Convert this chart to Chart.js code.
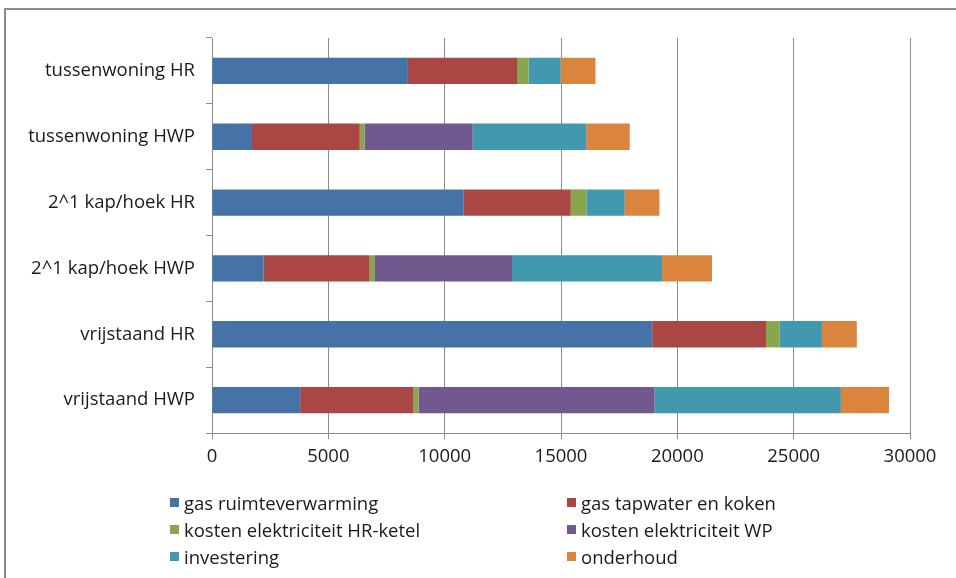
<!DOCTYPE html>
<html>
<head>
<meta charset="utf-8">
<script src="https://cdn.jsdelivr.net/npm/chart.js@4"></script>
<style>
  html, body { margin: 0; padding: 0; background: #fff; overflow: hidden; }
  #wrap { position: relative; width: 956px; height: 578px; }
  #frame { position: absolute; left: 4px; top: 8px; width: 980px; height: 600px;
           border: 2px solid #8c8c8c; box-sizing: border-box; pointer-events: none; }
  canvas { position: absolute; left: 0; top: 0; }
  #legend { position: absolute; left: 0; top: 0; width: 956px; height: 578px; pointer-events: none;
            font-family: "Open Sans", Lato, sans-serif; font-size: 18.5px; color: #1a1a1a; }
  .item { position: absolute; display: flex; align-items: center; white-space: nowrap; }
  .box { width: 9px; height: 9px; margin-right: 5px; }
</style>
</head>
<body>
<div id="wrap">
  <canvas id="c" width="956" height="578"></canvas>
  <div id="frame"></div>
  <div id="legend"></div>
</div>
<script>
const categories = [
  "tussenwoning HR",
  "tussenwoning HWP",
  "2^1 kap/hoek HR",
  "2^1 kap/hoek HWP",
  "vrijstaand HR",
  "vrijstaand HWP"
];
const seriesNames = [
  "gas ruimteverwarming",
  "gas tapwater en koken",
  "kosten elektriciteit HR-ketel",
  "kosten elektriciteit WP",
  "investering",
  "onderhoud"
];
const gasRuimteverwarming = [8420, 1720, 10820, 2220, 18920, 3790];
const gasTapwaterKoken    = [4690, 4630, 4600, 4555, 4890, 4870];
const elektriciteitHR     = [500, 215, 670, 230, 590, 220];
const elektriciteitWP     = [0, 4640, 0, 5890, 0, 10140];
const investering         = [1380, 4880, 1650, 6445, 1815, 8010];
const onderhoud           = [1490, 1870, 1490, 2150, 1500, 2070];
const xTicks = [0, 5000, 10000, 15000, 20000, 25000, 30000];

const colors = ["#4572A7", "#AA4643", "#89A54E", "#71588F", "#4198AF", "#DB843D"];
const seriesValues = [gasRuimteverwarming, gasTapwaterKoken, elektriciteitHR,
                      elektriciteitWP, investering, onderhoud];

const FONT = "'Open Sans', Lato, sans-serif";
const GRID = "#8c8c8c";

const datasets = seriesNames.map((name, i) => ({
  label: name,
  data: seriesValues[i],
  backgroundColor: colors[i],
  borderWidth: 0,
  barPercentage: 0.4,
  categoryPercentage: 1.0
}));

new Chart(document.getElementById("c"), {
  type: "bar",
  data: { labels: categories, datasets },
  options: {
    indexAxis: "y",
    responsive: false,
    animation: false,
    layout: { padding: { left: 0, right: 46, top: 38, bottom: 100 } },
    plugins: { legend: { display: false }, tooltip: { enabled: false } },
    scales: {
      x: {
        stacked: true,
        min: 0, max: 30000,
        afterBuildTicks: (s) => { s.ticks = xTicks.map(v => ({ value: v })); },
        afterFit: (s) => { s.height = 45; },
        grid: { color: GRID, lineWidth: 1, tickLength: 6, drawTicks: true },
        border: { color: GRID, width: 1 },
        ticks: { color: "#1a1a1a", font: { family: FONT, size: 18.5 }, padding: 7, maxRotation: 0,
                 callback: (v) => String(v) }
      },
      y: {
        stacked: true,
        afterFit: (s) => { s.width = 212; },
        grid: { drawOnChartArea: false, drawTicks: true, tickLength: 6, color: GRID },
        border: { color: GRID, width: 1 },
        ticks: { color: "#1a1a1a", font: { family: FONT, size: 18.5 }, padding: 11 }
      }
    }
  }
});

// two-column legend below the plot
const legend = document.getElementById("legend");
const colX = [170, 567];
const rowY = [502, 529, 556];
seriesNames.forEach((name, i) => {
  const el = document.createElement("div");
  el.className = "item";
  el.style.left = colX[i % 2] + "px";
  el.style.top = (rowY[Math.floor(i / 2)] - 12) + "px";
  el.style.height = "24px";
  const box = document.createElement("span");
  box.className = "box";
  box.style.background = colors[i];
  const txt = document.createElement("span");
  txt.textContent = name;
  el.appendChild(box);
  el.appendChild(txt);
  legend.appendChild(el);
});
</script>
</body>
</html>
